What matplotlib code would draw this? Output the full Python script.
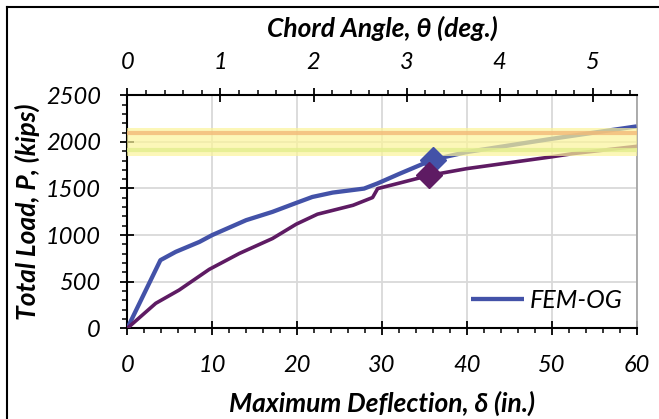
import matplotlib
matplotlib.use("Agg")
import matplotlib.pyplot as plt
from matplotlib.ticker import MultipleLocator
from matplotlib.lines import Line2D

plt.rcParams['font.family'] = ['Lato', 'DejaVu Sans']

# FEM-OG curve (blue) and second curve (purple), deflection in inches, load in kips
blue_x = [0, 3.9, 5.7, 8.5, 10.0, 14.0, 17.1, 19.9, 21.8, 24.2, 27.9, 29.5, 32.1, 36.0, 40.0, 49.8, 60.0]
blue_y = [0, 731, 820, 927, 1000, 1160, 1249, 1345, 1409, 1456, 1499, 1555, 1659, 1809, 1891, 2030, 2166]
purple_x = [0, 3.35, 6.1, 9.65, 13.2, 17.1, 19.9, 22.4, 26.6, 28.9, 29.5, 32.1, 35.6, 40.0, 49.8, 52.5, 60.0]
purple_y = [0, 268, 410, 632, 803, 963, 1117, 1224, 1320, 1403, 1499, 1559, 1641, 1713, 1837, 1874, 1952]

# marker points
blue_pt = (36.0, 1809)
purple_pt = (35.6, 1641)

# capacity band
band_lo, band_hi = 1845, 2152
line_hi, line_lo = 2094, 1916

in_per_deg = 10.97

blue = '#4352A8'
purple = '#5E1B63'
tick_fs = 17
label_fs = 19

fig = plt.figure(figsize=(6.59, 4.19), dpi=100)
ax = fig.add_axes([0.1932, 0.2165, 0.9659 - 0.1932, 0.7726 - 0.2165])

ax.plot(blue_x, blue_y, color=blue, lw=3.1, label='FEM-OG', zorder=3, solid_capstyle='butt')
ax.plot(purple_x, purple_y, color=purple, lw=2.6, zorder=3)

ax.axhspan(band_lo, band_hi, color='#FCF59A', alpha=0.7, lw=0, zorder=5)
ax.axhline(line_hi, color='#F2B978', lw=3, alpha=0.8, zorder=6)
ax.axhline(line_lo, color='#E2EE8E', lw=3, alpha=0.8, zorder=6)

ax.plot(*blue_pt, marker='D', ms=13.5, color=blue, zorder=7)
ax.plot(*purple_pt, marker='D', ms=13.5, color=purple, zorder=7)

ax.set_xlim(0, 60)
ax.set_ylim(0, 2500)
ax.xaxis.set_major_locator(MultipleLocator(10))
ax.xaxis.set_minor_locator(MultipleLocator(2))
ax.yaxis.set_major_locator(MultipleLocator(500))
ax.yaxis.set_minor_locator(MultipleLocator(100))
ax.grid(True, which='major', color='#D9D9D9', lw=1.3, zorder=0)
ax.set_axisbelow(True)

ax.spines['top'].set_visible(False)
ax.spines['right'].set_color('#A6A6A6')
ax.spines['right'].set_linewidth(1.3)
for s in ['left', 'bottom']:
    ax.spines[s].set_linewidth(1.5)

ax.tick_params(which='major', direction='inout', length=10, width=1.3, labelsize=tick_fs)
ax.tick_params(axis='x', which='major', pad=14)
ax.tick_params(axis='y', which='major', pad=14)
ax.tick_params(which='minor', direction='out', length=3.6, width=1.1)
for lab in ax.get_xticklabels() + ax.get_yticklabels():
    lab.set_fontstyle('italic')

ax.set_xlabel('Maximum Deflection, δ (in.)', fontsize=label_fs, fontweight='bold',
              fontstyle='italic', labelpad=11)
ax.set_ylabel('Total Load, P, (kips)', fontsize=label_fs, fontweight='bold',
              fontstyle='italic', labelpad=4)

# chord angle axis on top
top = ax.twiny()
top.set_xlim(0, 60 / in_per_deg)
top.xaxis.set_major_locator(MultipleLocator(1))
top.xaxis.set_minor_locator(MultipleLocator(0.2))
for s in ['bottom', 'left', 'right']:
    top.spines[s].set_visible(False)
top.spines['top'].set_linewidth(1.5)
top.tick_params(which='major', direction='inout', length=10, width=1.3, labelsize=tick_fs, pad=11)
top.tick_params(which='minor', direction='out', length=3.6, width=1.1)
for lab in top.get_xticklabels():
    lab.set_fontstyle('italic')
top.set_xlabel('Chord Angle, θ (deg.)', fontsize=label_fs, fontweight='bold',
               fontstyle='italic', labelpad=11)

h, l = ax.get_legend_handles_labels()
leg = top.legend(h, l, loc='center right', bbox_to_anchor=(1 - 14 / 509.2, 28 / 233),
                 frameon=False, fontsize=18, handlelength=2.1, handletextpad=0.25,
                 borderaxespad=0, borderpad=0)
for t in leg.get_texts():
    t.set_fontstyle('italic')

# outer chart border (cropped on right and bottom)
bx, by = 6.7 / 659, 1 - 7 / 419
fig.add_artist(Line2D([bx, bx], [0, by], transform=fig.transFigure, color='black', lw=1.5))
fig.add_artist(Line2D([bx, 1], [by, by], transform=fig.transFigure, color='black', lw=1.5))

fig.savefig('out.png', dpi=100)
